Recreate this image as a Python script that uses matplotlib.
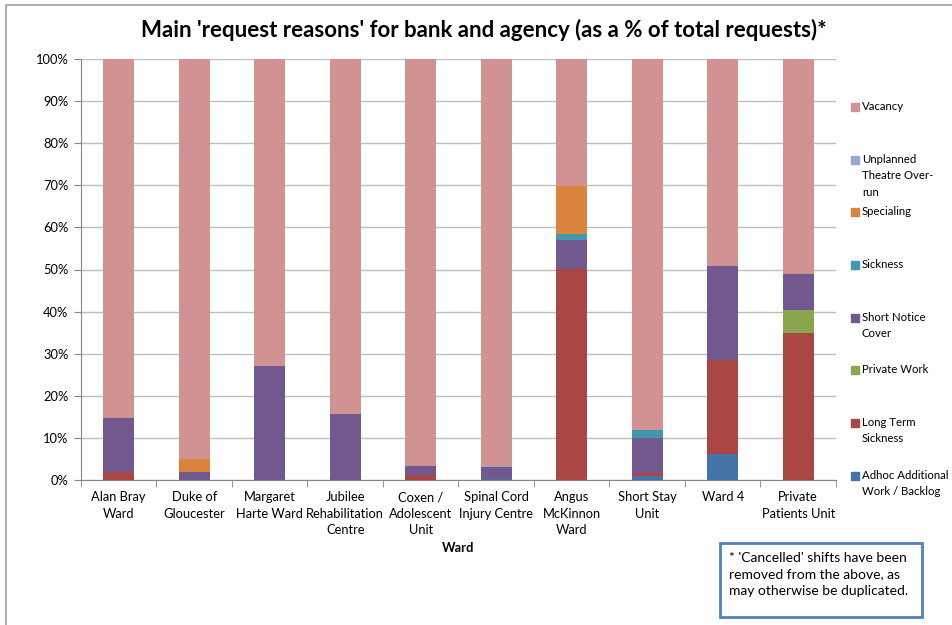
import numpy as np
import matplotlib.pyplot as plt
from matplotlib.patches import Rectangle
from matplotlib.ticker import FuncFormatter, MultipleLocator

W, H = 953, 625

wards = ["Alan Bray\nWard", "Duke of\nGloucester", "Margaret\nHarte Ward",
         "Jubilee\nRehabilitation\nCentre", "Coxen /\nAdolescent\nUnit",
         "Spinal Cord\nInjury Centre", "Angus\nMcKinnon\nWard", "Short Stay\nUnit",
         "Ward 4", "Private\nPatients Unit"]

# stacked from the bottom up (%)
adhoc = [0, 0, 0, 0, 0, 0.3, 0, 1.0, 6.1, 0]
long_term = [2.0, 0, 0, 0, 1.2, 0, 50.2, 0.6, 22.4, 34.8]
private_work = [0, 0, 0, 0, 0, 0, 0, 0, 0, 5.6]
short_notice = [12.7, 2.0, 27.1, 15.6, 2.2, 2.8, 6.8, 8.3, 22.4, 8.6]
sickness = [0, 0, 0, 0, 0, 0, 1.4, 2.0, 0, 0]
specialing = [0, 3.0, 0, 0, 0, 0, 11.5, 0, 0, 0]
unplanned = [0, 0, 0, 0, 0, 0.2, 0, 0, 0, 0]
vacancy = [85.3, 95.0, 72.9, 84.4, 96.6, 96.7, 30.1, 88.1, 49.1, 51.0]

series = [
    ("Adhoc Additional\nWork / Backlog", adhoc, "#4572A7"),
    ("Long Term\nSickness", long_term, "#AA4643"),
    ("Private Work", private_work, "#89A54E"),
    ("Short Notice\nCover", short_notice, "#71588F"),
    ("Sickness", sickness, "#4198AF"),
    ("Specialing", specialing, "#DB843D"),
    ("Unplanned\nTheatre Over-\nrun", unplanned, "#93A9CF"),
    ("Vacancy", vacancy, "#D19392"),
]

plt.rcParams['font.family'] = ['Lato', 'DejaVu Sans']
FS = 9.3


def fx(px):
    return px / W


def fy(py):
    return 1 - py / H


fig = plt.figure(figsize=(W / 100, H / 100), dpi=100)

# outer chart border
fig.patches.append(Rectangle((fx(6), fy(640)), fx(960) - fx(6), fy(5) - fy(640),
                             transform=fig.transFigure, fill=False,
                             edgecolor="#A0A0A0", linewidth=1.2))

ax = fig.add_axes([fx(81), fy(480), fx(836) - fx(81), fy(59) - fy(480)])

x = np.arange(len(wards))
bottom = np.zeros(len(wards))
for name, vals, color in series:
    vals = np.array(vals, dtype=float)
    ax.bar(x, vals, width=0.41, bottom=bottom, color=color, zorder=3)
    bottom += vals

ax.set_xlim(-0.5, len(wards) - 0.5)
ax.set_ylim(0, 100)
ax.yaxis.set_major_locator(MultipleLocator(10))
ax.yaxis.set_major_formatter(FuncFormatter(lambda v, p: f"{int(v)}%"))
ax.grid(axis='y', color="#BEBEBE", linewidth=1, zorder=0)
ax.set_axisbelow(True)

ax.set_xticks(x)
ax.set_xticklabels(wards, fontsize=FS, linespacing=1.45)
ax.set_xticks(np.arange(-0.5, len(wards)), minor=True)
ax.tick_params(axis='x', which='major', length=0, pad=8)
ax.tick_params(axis='x', which='minor', length=5, color="#868686")
ax.tick_params(axis='y', length=5, color="#868686", labelsize=FS, pad=4)

for s in ['top', 'right']:
    ax.spines[s].set_visible(False)
for s in ['left', 'bottom']:
    ax.spines[s].set_color("#868686")

ax.set_xlabel("Ward", fontsize=FS, fontweight='bold', labelpad=4)

fig.text(fx(484), fy(30), "Main 'request reasons' for bank and agency (as a % of total requests)*",
         ha='center', va='center', fontsize=16, fontweight='bold')

# legend, top entry = last stacked series
legend_y = [107, 160, 212, 265, 318, 370, 423, 476]
for (name, vals, color), ly in zip(series[::-1], legend_y):
    fig.patches.append(Rectangle((fx(851), fy(ly + 4)), fx(8), fx(8) * W / H,
                                 transform=fig.transFigure, color=color))
    fig.text(fx(862), fy(ly - 6), name, ha='left', va='top', fontsize=8.2,
             linespacing=1.6)

# footnote box
fig.patches.append(Rectangle((fx(720), fy(617)), fx(922) - fx(720), fy(543) - fy(617),
                             transform=fig.transFigure, fill=False,
                             edgecolor="#4F81BD", linewidth=2))
fig.text(fx(729), fy(552), "* 'Cancelled' shifts have been\nremoved from the above, as\nmay otherwise be duplicated.",
         ha='left', va='top', fontsize=10, linespacing=1.45)

fig.savefig("out.png", dpi=100)
